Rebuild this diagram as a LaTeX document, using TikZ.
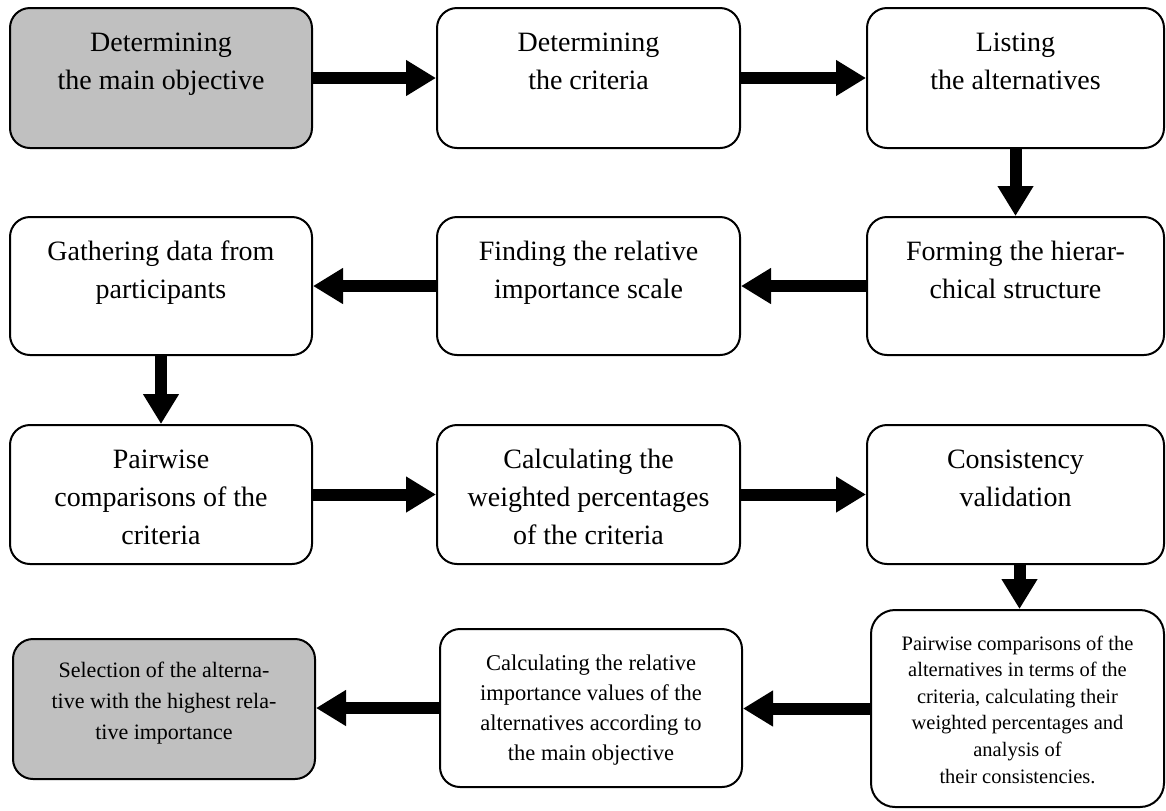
\documentclass[tikz,border=0pt]{standalone}
\usepackage{fontspec}
\setmainfont{Liberation Serif}
\usetikzlibrary{arrows.meta}

\definecolor{stepgray}{HTML}{C0C0C0}
\newcommand{\boxtext}[4]{\parbox[c][#2][t]{#1}{\centering\vspace*{#3}\strut#4\par}}

\tikzset{
    stepbox/.style={draw, line width=1pt, rounded corners=10pt, inner sep=0pt,
        font=\fontsize{14pt}{19pt}\selectfont},
    startbox/.style={stepbox, fill=stepgray},
    flow/.style={line width=6pt, -{Triangle[length=15pt,width=17pt]}}
}

\begin{document}
\begin{tikzpicture}[x=0.5pt, y=-0.5pt]
    \useasboundingbox (0,0) rectangle (1166,810);

    \node[startbox] (objective) at (161,78)
    {\boxtext{151pt}{70pt}{8.2pt}{Determining\\the main objective}};
    \node[stepbox] (criteria) at (588.5,78)
    {\boxtext{151.5pt}{70pt}{8.2pt}{Determining\\the criteria}};
    \node[stepbox] (alternatives) at (1015.5,78)
    {\boxtext{148.5pt}{70pt}{8.2pt}{Listing\\the alternatives}};

    \node[stepbox] (hierarchy) at (1015.5,286)
    {\boxtext{148.5pt}{69pt}{8.2pt}{Forming the hierar-\\chical structure}};
    \node[stepbox] (scale) at (588.5,286)
    {\boxtext{151.5pt}{69pt}{8.2pt}{Finding the relative\\importance scale}};
    \node[stepbox] (gathering) at (161,286)
    {\boxtext{151pt}{69pt}{8.2pt}{Gathering data from\\participants}};

    \node[stepbox] (pairwise) at (161,494.5)
    {\boxtext{151pt}{69.5pt}{8.2pt}{Pairwise\\comparisons of the\\criteria}};
    \node[stepbox] (weighted) at (588.5,494.5)
    {\boxtext{151.5pt}{69.5pt}{8.2pt}{Calculating the\\weighted percentages\\of the criteria}};
    \node[stepbox] (consistency) at (1015.5,494.5)
    {\boxtext{148.5pt}{69.5pt}{8.2pt}{Consistency\\validation}};

    \node[stepbox, rounded corners=12pt, font=\fontsize{10.25pt}{13.3pt}\selectfont]
    (altpairwise) at (1017.5,708.5)
    {\boxtext{146.5pt}{98.5pt}{10.7pt}{Pairwise comparisons of the\\alternatives in terms of the\\criteria, calculating their\\weighted percentages and\\analysis of\\their consistencies.}};
    \node[stepbox, font=\fontsize{11.25pt}{15pt}\selectfont] (values) at (591,708)
    {\boxtext{151pt}{79pt}{10pt}{Calculating the relative\\importance values of the\\alternatives according to\\the main objective}};
    \node[startbox, font=\fontsize{11pt}{15.5pt}\selectfont] (selection) at (164,709)
    {\boxtext{151pt}{70pt}{8.6pt}{Selection of the alterna-\\tive with the highest rela-\\tive importance}};

    \draw[flow] (objective) -- (criteria);
    \draw[flow] (criteria) -- (alternatives);
    \draw[flow] (alternatives.south) -- (hierarchy.north);
    \draw[flow] (hierarchy) -- (scale);
    \draw[flow] (scale) -- (gathering);
    \draw[flow] (gathering.south) -- (pairwise.north);
    \draw[flow] (pairwise) -- (weighted);
    \draw[flow] (weighted) -- (consistency);
    \draw[flow] ([xshift=2pt]consistency.south) -- ([xshift=2pt]consistency.south |- altpairwise.north);
    \draw[flow] (altpairwise.west) -- (altpairwise.west -| values.east);
    \draw[flow] (values.west) -- (values.west -| selection.east);
\end{tikzpicture}
\end{document}
